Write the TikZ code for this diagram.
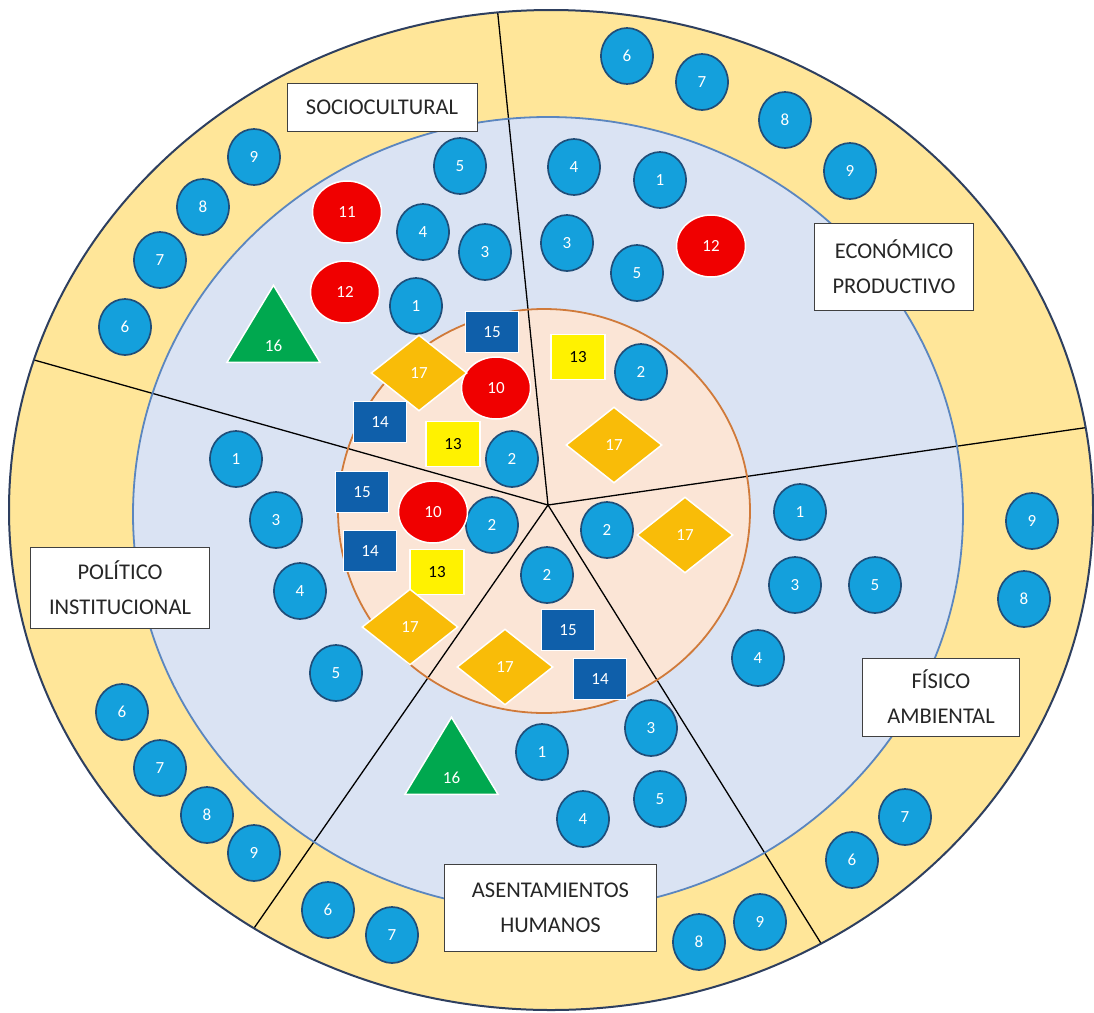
\documentclass[tikz,border=0pt]{standalone}
\usepackage{fontspec}
\setmainfont{Carlito}
\usetikzlibrary{shapes.geometric}

\definecolor{ringgold}{HTML}{FFE699}
\definecolor{innerblue}{HTML}{DAE3F3}
\definecolor{corepeach}{HTML}{FBE5D6}
\definecolor{outerline}{HTML}{2E3F5F}
\definecolor{innerline}{HTML}{5B86BF}
\definecolor{coreline}{HTML}{D07A3A}
\definecolor{bubfill}{HTML}{14A0DC}
\definecolor{bubline}{HTML}{1F4E79}
\definecolor{redfill}{HTML}{F00000}
\definecolor{greenfill}{HTML}{00A84F}
\definecolor{navyfill}{HTML}{0F5FAA}
\definecolor{goldfill}{HTML}{F9BC08}
\definecolor{tagline}{HTML}{404040}
\definecolor{tagtext}{HTML}{262626}

\newcommand{\numfont}{\fontsize{17}{17}\selectfont}
\newcommand{\tagfont}{\fontsize{22.5}{35}\selectfont}

\begin{document}
\begin{tikzpicture}[x=1pt, y=-1pt,
    bubble/.style={ellipse, fill=bubfill, draw=bubline, line width=1.7pt, minimum width=52pt, minimum height=56pt, inner sep=0pt, text=white, font=\numfont},
    redbub/.style={ellipse, fill=redfill, draw=white, line width=1.5pt, minimum width=69pt, minimum height=62pt, inner sep=0pt, text=white, font=\numfont},
    navybox/.style={rectangle, fill=navyfill, draw=white, line width=1.5pt, minimum width=53pt, minimum height=41pt, inner sep=0pt, text=white, font=\numfont},
    yellowbox/.style={rectangle, fill=yellow, draw=white, line width=1.5pt, minimum width=54pt, minimum height=45pt, inner sep=0pt, text=black, font=\numfont},
    gem/.style={diamond, fill=goldfill, draw=white, line width=1.5pt, minimum width=96pt, minimum height=76pt, inner sep=0pt, text=white, font=\numfont},
    hill/.style={isosceles triangle, shape border rotate=90, isosceles triangle stretches, minimum width=93pt, minimum height=77pt, inner sep=0pt, text height=30pt, text depth=0pt, fill=greenfill, draw=white, line width=1.5pt, text=white, font=\numfont},
    tag/.style={rectangle, fill=white, draw=tagline, line width=1pt, align=center, inner sep=0pt, text=tagtext, font=\tagfont},
    divider/.style={black, line width=1.3pt}]

% Canvas
\useasboundingbox (0,0) rectangle (1094,1012);

% Rings
\fill[ringgold] (551,510) ellipse [x radius=542, y radius=500];
\fill[innerblue] (548,514) ellipse [x radius=415, y radius=397];
\fill[corepeach] (544,511) ellipse [x radius=206, y radius=202];

% Sector lines
\coordinate (ctr) at (548,505);
\coordinate (eTop) at (496,-4);
\coordinate (eRight) at (1104,425);
\coordinate (eBotR) at (832,961);
\coordinate (eBotL) at (243,944);
\coordinate (eLeft) at (20,356);
\begin{scope}
\clip (551,510) ellipse [x radius=542, y radius=500];
\foreach \e in {eTop,eRight,eBotR,eBotL,eLeft} {
    \draw[divider] (ctr) -- (\e);
}
\end{scope}

% Ring borders
\draw[innerline, line width=1.8pt] (548,514) ellipse [x radius=415, y radius=397];
\draw[coreline, line width=1.8pt] (544,511) ellipse [x radius=206, y radius=202];
\draw[outerline, line width=2pt] (551,510) ellipse [x radius=542, y radius=500];

% Sociocultural
\foreach \n/\x/\y in {6/125/327, 7/160/260, 8/203/207, 9/254/157, 1/416/306, 3/485/252, 4/423/232, 5/460/166, 2/512/459} {
    \node[bubble] (soc\n) at (\x,\y) {\n};
}
\node[redbub] (soc10) at (496,388) {10};
\node[redbub] (soc11) at (347,212) {11};
\node[redbub] (soc12) at (345,292) {12};
\node[yellowbox] (soc13) at (453,444) {13};
\node[navybox] (soc14) at (380,422) {14};
\node[navybox] (soc15) at (492,332) {15};
\node[hill, anchor=lower side] (soc16) at (273.5,363) {16};
\node[gem] (soc17) at (419,373) {17};
\node[tag, minimum width=190pt, minimum height=48pt] (socTag) at (382,107.5) {SOCIOCULTURAL};

% Economico productivo
\foreach \n/\x/\y in {6/627/56, 7/702/82, 8/785/120, 9/850/171, 4/574/167, 1/660/180, 3/567/243, 5/637/273, 2/641/372} {
    \node[bubble] (eco\n) at (\x,\y) {\n};
}
\node[redbub] (eco12) at (711,246) {12};
\node[yellowbox] (eco13) at (578,357) {13};
\node[gem] (eco17) at (614,445) {17};
\node[tag, minimum width=159pt, minimum height=87pt] (ecoTag) at (894,267) {ECONÓMICO\\PRODUCTIVO};

% Politico institucional
\foreach \n/\x/\y in {1/236/459, 3/276/520, 4/300/591, 5/336/673, 6/122/712, 7/160/768, 8/207/815, 9/254/853, 2/492/525} {
    \node[bubble] (pol\n) at (\x,\y) {\n};
}
\node[navybox] (pol15) at (362,492) {15};
\node[redbub] (pol10) at (433,512) {10};
\node[navybox] (pol14) at (370,551) {14};
\node[yellowbox] (pol13) at (437,572) {13};
\node[gem] (pol17) at (410,627) {17};
\node[tag, minimum width=179pt, minimum height=81pt] (polTag) at (120,588) {POLÍTICO\\INSTITUCIONAL};

% Asentamientos humanos
\foreach \n/\x/\y in {2/547/575, 1/542/752, 3/651/728, 5/660/799, 4/583/819, 6/328/910, 7/392/935, 8/699/942, 9/760/922} {
    \node[bubble] (ase\n) at (\x,\y) {\n};
}
\node[gem] (ase17) at (505,667) {17};
\node[navybox] (ase15) at (568,630) {15};
\node[navybox] (ase14) at (600,679) {14};
\node[hill, anchor=lower side] (ase16) at (451.5,795) {16};
\node[tag, minimum width=212pt, minimum height=87pt] (aseTag) at (550.5,907.5) {ASENTAMIENTOS\\HUMANOS};

% Fisico ambiental
\foreach \n/\x/\y in {2/607/530, 1/800/512, 3/795/585, 5/875/585, 4/758/658, 9/1032/521, 8/1024/599, 7/905/817, 6/852/860} {
    \node[bubble] (fis\n) at (\x,\y) {\n};
}
\node[gem] (fis17) at (685,535) {17};
\node[tag, minimum width=157pt, minimum height=78pt] (fisTag) at (941,697) {FÍSICO\\AMBIENTAL};
\end{tikzpicture}
\end{document}
